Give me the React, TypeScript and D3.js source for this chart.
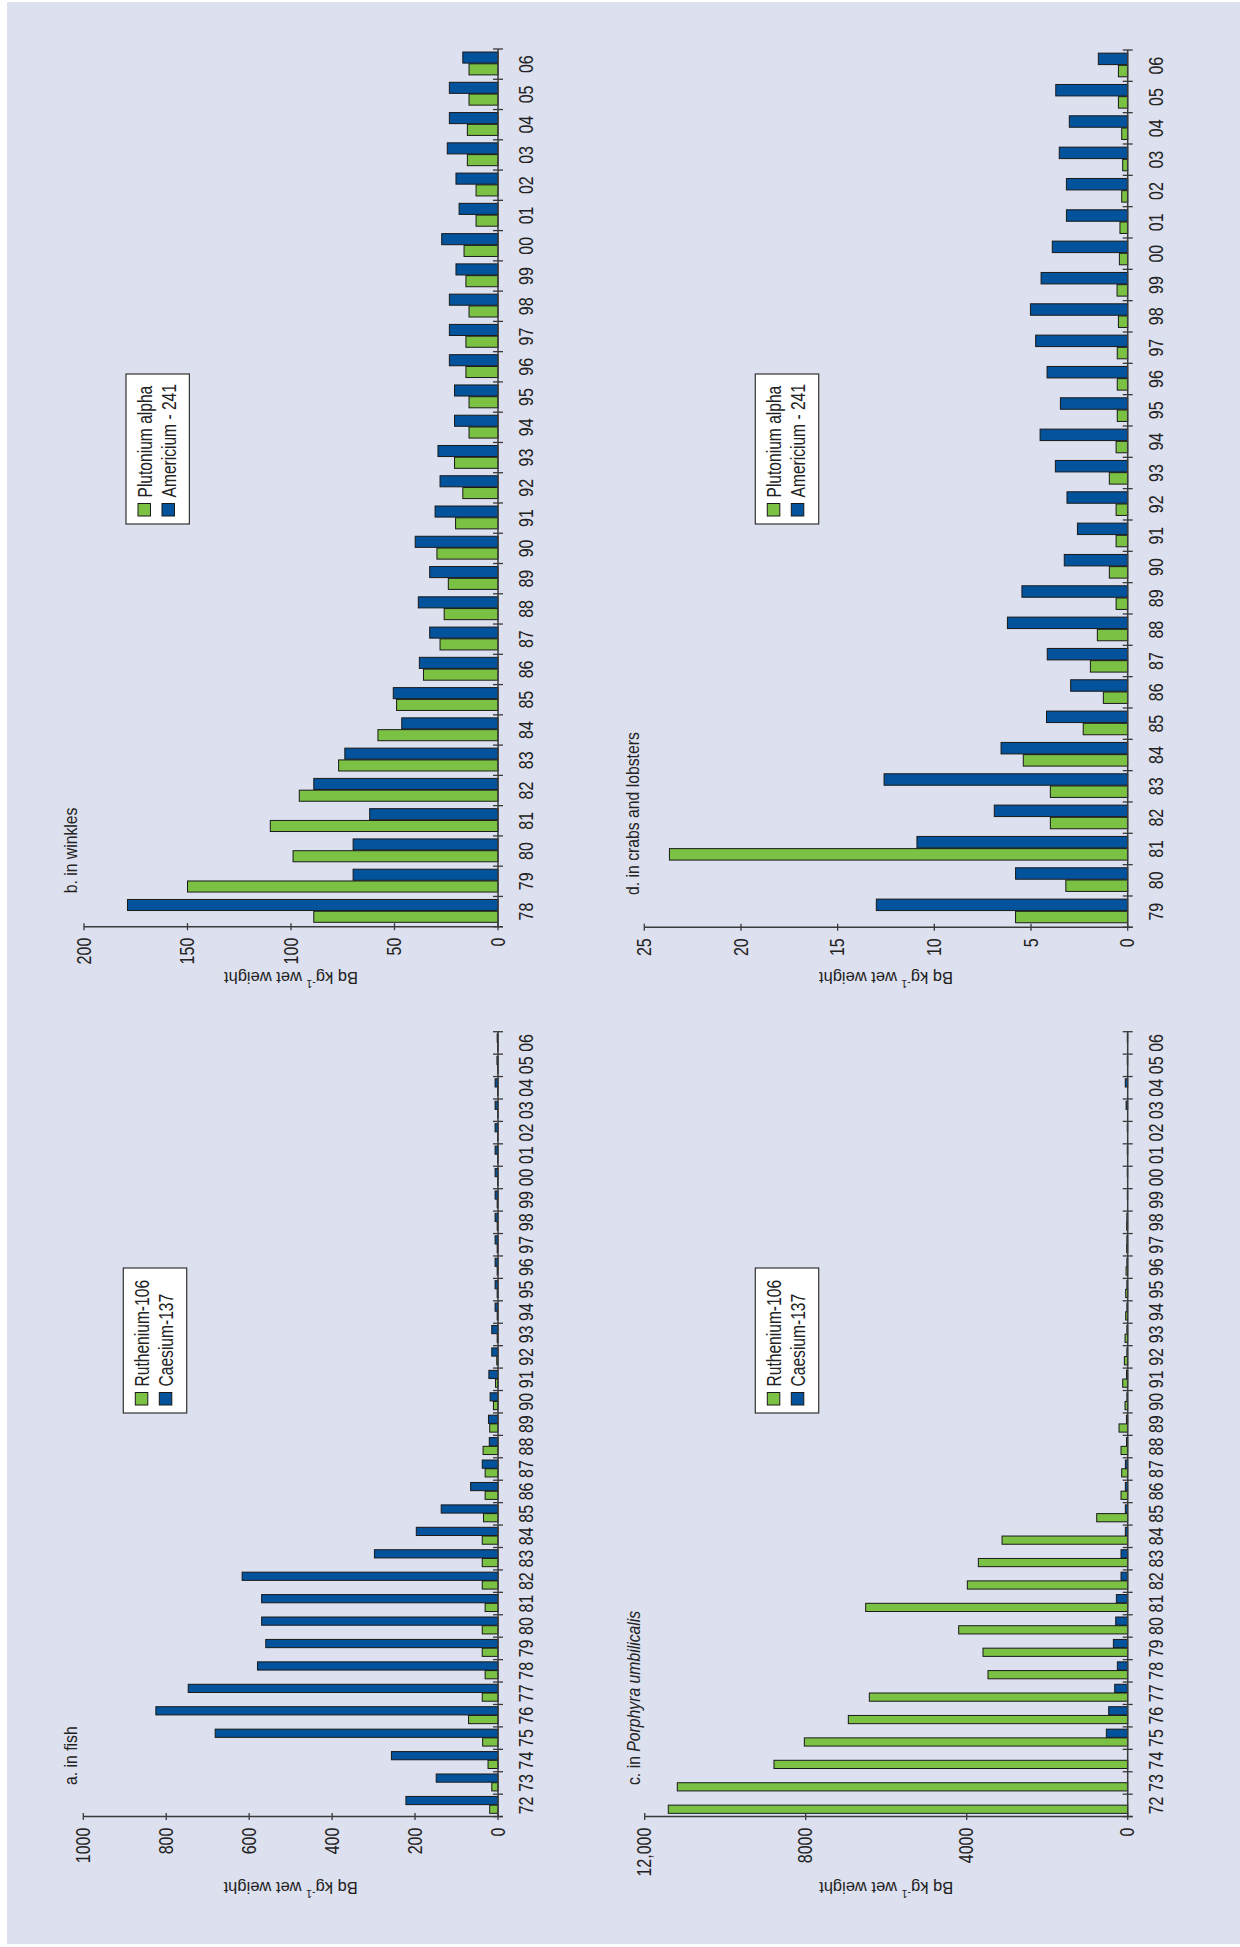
import React from 'react';
import * as d3 from 'd3';

// ---------- DATA ----------
const yearsAC = ['72','73','74','75','76','77','78','79','80','81','82','83','84','85','86','87','88','89','90','91','92','93','94','95','96','97','98','99','00','01','02','03','04','05','06'];
const fishRuthenium = [20,15,24,37,71,38,31,38,38,31,38,38,38,35,31,31,36,20,11,6,3,2,2,2,2,2,2,2,1,1,1,1,1,1,1];
const fishCaesium = [222,149,257,682,825,747,580,560,570,570,617,298,197,137,66,38,21,23,19,22,15,15,7,7,7,7,7,7,7,7,7,7,7,2.5,2];
const porphyraRuthenium = [11414,11190,8788,8034,6941,6419,3471,3595,4199,6510,3984,3711,3122,770,166,149,166,215,66,124,83,66,50,50,40,25,25,0,0,0,0,0,0,0,0];
const porphyraCaesium = [0,0,0,531,473,323,257,356,298,282,166,166,58,58,58,58,30,30,20,30,20,20,20,20,20,20,20,10,10,10,10,40,60,10,10];

const yearsB = ['78','79','80','81','82','83','84','85','86','87','88','89','90','91','92','93','94','95','96','97','98','99','00','01','02','03','04','05','06'];
const winklesPlutonium = [89,150,99,110,96,77,58,49,36,28,26,24,29.5,20.5,17,21,14,14,15.5,15.5,14,15.5,16.4,10.6,10.6,14.8,14.8,14,14];
const winklesAmericium = [179,70,70,62,89,74,46.5,50.6,38,33,38.5,33,40,30.4,28,29,21,21,23.5,23.5,23.5,20.3,27.2,18.8,20.3,24.5,23.5,23.5,17];

const yearsD = ['79','80','81','82','83','84','85','86','87','88','89','90','91','92','93','94','95','96','97','98','99','00','01','02','03','04','05','06'];
const crabsPlutonium = [5.8,3.2,23.7,4.0,4.0,5.4,2.3,1.26,1.93,1.57,0.6,0.95,0.6,0.6,0.95,0.6,0.54,0.54,0.54,0.48,0.55,0.43,0.4,0.31,0.26,0.31,0.48,0.48];
const crabsAmericium = [13.0,5.8,10.9,6.9,12.6,6.55,4.2,2.95,4.16,6.22,5.47,3.28,2.6,3.14,3.74,4.53,3.48,4.17,4.76,5.03,4.48,3.9,3.17,3.17,3.54,3.02,3.72,1.52];

const ticksA = [0,200,400,600,800,1000];
const ticksB = [0,50,100,150,200];
const ticksC = [0,4000,8000,12000];
const ticksD = [0,5,10,15,20,25];

const legendAC = ['Ruthenium-106','Caesium-137'];
const legendBD = ['Plutonium alpha','Americium - 241'];

// ---------- STYLE ----------
const GREEN = '#7bc143';
const BLUE = '#02529c';
const BG = '#dde0ee';
const SANS = '"Liberation Sans", Arial, sans-serif';
const SQUEEZE = 0.8;

type NTextProps = {
  x: number; y: number; size: number;
  anchor?: 'start' | 'middle' | 'end';
  baseline?: string;
  squeeze?: number;
  children: React.ReactNode;
};

// Narrow-looking text: Liberation Sans squeezed horizontally
function NText({ x, y, size, anchor = 'start', baseline, squeeze = SQUEEZE, children }: NTextProps) {
  return (
    <text transform={`translate(${x},${y}) scale(${squeeze},1)`} x={0} y={0}
      textAnchor={anchor} dominantBaseline={baseline as any}
      fontFamily={SANS} fontSize={size} fill="#222">{children}</text>
  );
}

type PanelProps = {
  years: string[];
  s1: number[];
  s2: number[];
  x0: number; x1: number;
  base: number; top: number; max: number;
  ticks: number[];
  tickFmt: (v: number) => string;
  title: React.ReactNode;
  titleX: number; titleY: number;
  axisTitleX: number;
  legend: string[];
  legendBox: { x: number; y: number; w: number; h: number };
};

function Panel(p: PanelProps) {
  const xBand = d3.scaleBand<string>().domain(p.years).range([p.x0, p.x1]).padding(0);
  const bw = xBand.bandwidth();
  const inner = d3.scaleBand<string>().domain(['s1', 's2']).range([0.145 * bw, 0.9 * bw]).paddingInner(0.06);
  const y = d3.scaleLinear().domain([0, p.max]).range([p.base, p.top]);
  const tickPositions = d3.range(p.years.length + 1).map(i => p.x0 + i * bw);
  const axisColor = '#3a3a3a';
  const lb = p.legendBox;
  return (
    <g>
      {/* bars */}
      {p.years.map((yr, i) => {
        const bx = xBand(yr)!;
        const v1 = p.s1[i], v2 = p.s2[i];
        return (
          <g key={yr}>
            {v1 > 0 && (
              <rect x={bx + inner('s1')!} y={y(v1)} width={inner.bandwidth()} height={p.base - y(v1)}
                fill={GREEN} stroke="#1a1a1a" strokeWidth={1} />
            )}
            {v2 > 0 && (
              <rect x={bx + inner('s2')!} y={y(v2)} width={inner.bandwidth()} height={p.base - y(v2)}
                fill={BLUE} stroke="#1a1a1a" strokeWidth={1} />
            )}
          </g>
        );
      })}
      {/* category axis */}
      <line x1={p.x0} x2={p.x1} y1={p.base} y2={p.base} stroke={axisColor} strokeWidth={1.5} />
      {tickPositions.map((tx, i) => (
        <line key={'ct' + i} x1={tx} x2={tx} y1={p.base - 5} y2={p.base + 5} stroke={axisColor} strokeWidth={1.3} />
      ))}
      {p.years.map(yr => (
        <NText key={'yl' + yr} x={xBand(yr)! + bw / 2} y={p.base + 35} anchor="middle" size={20}>{yr}</NText>
      ))}
      {/* value axis */}
      <line x1={p.x0} x2={p.x0} y1={p.base + 5} y2={y(p.ticks[p.ticks.length - 1])} stroke={axisColor} strokeWidth={1.5} />
      {p.ticks.map(t => (
        <g key={'vt' + t}>
          <line x1={p.x0 - 3.5} x2={p.x0 + 3.5} y1={y(t)} y2={y(t)} stroke={axisColor} strokeWidth={1.3} />
          <NText x={p.x0 - 11} y={y(t)} anchor="end" baseline="central" size={20}>{p.tickFmt(t)}</NText>
        </g>
      ))}
      {/* axis title */}
      <text transform={`translate(${p.axisTitleX},${(p.base + y(p.ticks[p.ticks.length - 1])) / 2}) rotate(-90)`}
        textAnchor="middle" dominantBaseline="central" fontFamily={SANS} fontSize={16.5} fill="#222">
        Bq kg<tspan dy={-6} fontSize={10.5}>-1</tspan><tspan dy={6}> wet weight</tspan>
      </text>
      {/* panel title */}
      <NText x={p.titleX} y={p.titleY} size={19} squeeze={0.83}>{p.title}</NText>
      {/* legend */}
      <rect x={lb.x} y={lb.y} width={lb.w} height={lb.h} fill="#ffffff" stroke="#333" strokeWidth={1.2} />
      {p.legend.map((name, i) => (
        <g key={name}>
          <rect x={lb.x + 8} y={lb.y + 12 + i * 24} width={12.5} height={12.5}
            fill={i === 0 ? GREEN : BLUE} stroke="#1a1a1a" strokeWidth={1} />
          <NText x={lb.x + 26.5} y={lb.y + 25.5 + i * 24} size={19.5}>{name}</NText>
        </g>
      ))}
    </g>
  );
}

export default function App() {
  const W = 1240, H = 1947;
  const fmtInt = (v: number) => String(v);
  const fmtComma = (v: number) => (v >= 10000 ? d3.format(',')(v) : String(v));
  return (
    <svg width={W} height={H} style={{ position: 'absolute', left: 0, top: 0, display: 'block' }}>
      <rect x={0} y={0} width={W} height={H} fill="#ffffff" />
      <rect x={7} y={2} width={W - 7} height={1942} fill={BG} />
      <g transform={`translate(0,${H}) rotate(-90)`}>
        {/* a. fish */}
        <Panel years={yearsAC} s1={fishRuthenium} s2={fishCaesium}
          x0={130.4} x1={915.3} base={498} top={83.3} max={1000}
          ticks={ticksA} tickFmt={fmtInt}
          title={'a. in fish'} titleX={162} titleY={77}
          axisTitleX={59}
          legend={legendAC} legendBox={{ x: 534, y: 123.3, w: 145, h: 63.4 }} />
        {/* c. Porphyra */}
        <Panel years={yearsAC} s1={porphyraRuthenium} s2={porphyraCaesium}
          x0={130.4} x1={915.3} base={1127.7} top={644.7} max={12000}
          ticks={ticksC} tickFmt={fmtComma}
          title={<>c. in <tspan fontStyle="italic">Porphyra umbilicalis</tspan></>} titleX={162} titleY={640}
          axisTitleX={59}
          legend={legendAC} legendBox={{ x: 534, y: 755.3, w: 145, h: 63.4 }} />
        {/* b. winkles */}
        <Panel years={yearsB} s1={winklesPlutonium} s2={winklesAmericium}
          x0={1020.3} x1={1898} base={498} top={84} max={200}
          ticks={ticksB} tickFmt={fmtInt}
          title={'b. in winkles'} titleX={1053.7} titleY={77}
          axisTitleX={969.5}
          legend={legendBD} legendBox={{ x: 1423, y: 126, w: 150, h: 63.4 }} />
        {/* d. crabs */}
        <Panel years={yearsD} s1={crabsPlutonium} s2={crabsAmericium}
          x0={1019.7} x1={1897} base={1127.7} top={644.3} max={25}
          ticks={ticksD} tickFmt={fmtInt}
          title={'d. in crabs and lobsters'} titleX={1052} titleY={639}
          axisTitleX={969.5}
          legend={legendBD} legendBox={{ x: 1423, y: 755.3, w: 150, h: 63.4 }} />
      </g>
    </svg>
  );
}
